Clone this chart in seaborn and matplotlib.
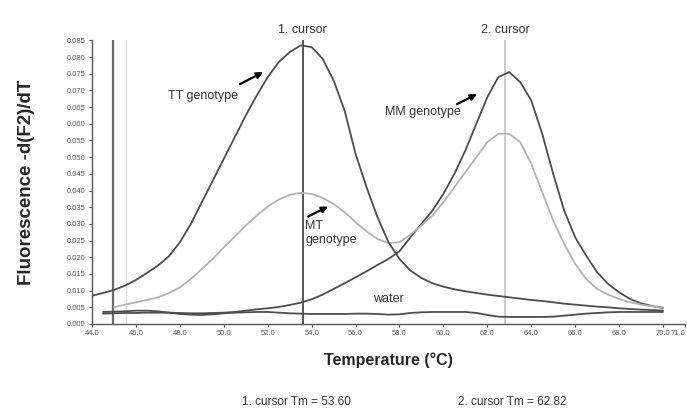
import numpy as np
import pandas as pd
import matplotlib
matplotlib.use("Agg")
import matplotlib.pyplot as plt
import seaborn as sns

sns.set_style("ticks")
plt.rcParams["font.family"] = ["Liberation Sans", "DejaVu Sans"]

# melting curve data (0.5 degC grid)
temperature = [44.0 + 0.5 * i for i in range(53)]

tt_genotype = [
    0.0085, 0.0093, 0.0102, 0.0115, 0.0132, 0.0153, 0.0175, 0.0203, 0.0245, 0.0300,
    0.0365, 0.0430, 0.0495, 0.0560, 0.0625, 0.0685, 0.0740, 0.0785, 0.0815, 0.0835,
    0.0830, 0.0795, 0.0730, 0.0640, 0.0510, 0.0410, 0.0320, 0.0245, 0.0195, 0.0160,
    0.0138, 0.0122, 0.0112, 0.0104, 0.0098, 0.0093, 0.0088, 0.0084, 0.0080, 0.0076,
    0.0072, 0.0069, 0.0065, 0.0061, 0.0058, 0.0055, 0.0052, 0.0050, 0.0047, 0.0045,
    0.0043, 0.0042, 0.0040,
]

mt_genotype = [
    np.nan, np.nan, 0.0050, 0.0058, 0.0065, 0.0072, 0.0080, 0.0092, 0.0110, 0.0135,
    0.0165, 0.0195, 0.0230, 0.0262, 0.0295, 0.0325, 0.0352, 0.0373, 0.0387, 0.0393,
    0.0390, 0.0378, 0.0360, 0.0335, 0.0305, 0.0278, 0.0255, 0.0243, 0.0245, 0.0268,
    0.0295, 0.0325, 0.0365, 0.0410, 0.0455, 0.0500, 0.0545, 0.0570, 0.0570, 0.0545,
    0.0480, 0.0395, 0.0310, 0.0240, 0.0180, 0.0135, 0.0105, 0.0088, 0.0075, 0.0065,
    0.0058, 0.0053, 0.0050,
]

mm_genotype = [
    np.nan, 0.0031, 0.0032, 0.0033, 0.0033, 0.0034, 0.0034, 0.0034, 0.0033, 0.0032,
    0.0032, 0.0033, 0.0034, 0.0036, 0.0040, 0.0044, 0.0047, 0.0051, 0.0057, 0.0064,
    0.0074, 0.0088, 0.0105, 0.0122, 0.0140, 0.0158, 0.0177, 0.0195, 0.0218, 0.0260,
    0.0300, 0.0340, 0.0390, 0.0450, 0.0520, 0.0600, 0.0680, 0.0740, 0.0755, 0.0725,
    0.0670, 0.0570, 0.0450, 0.0340, 0.0260, 0.0205, 0.0155, 0.0120, 0.0095, 0.0075,
    0.0062, 0.0054, 0.0048,
]

water = [
    np.nan, 0.0036, 0.0037, 0.0038, 0.0040, 0.0040, 0.0038, 0.0034, 0.0030, 0.0028,
    0.0027, 0.0029, 0.0032, 0.0034, 0.0035, 0.0036, 0.0036, 0.0034, 0.0032, 0.0031,
    0.0030, 0.0030, 0.0030, 0.0030, 0.0031, 0.0031, 0.0030, 0.0028, 0.0029, 0.0033,
    0.0035, 0.0036, 0.0036, 0.0036, 0.0036, 0.0033, 0.0027, 0.0022, 0.0021, 0.0021,
    0.0021, 0.0021, 0.0022, 0.0025, 0.0028, 0.0031, 0.0033, 0.0035, 0.0036, 0.0036,
    0.0036, 0.0036, 0.0036,
]

cursor_tm = [53.60, 62.82]
marker_lines = [44.94, 45.55]

y_ticks = [round(0.005 * i, 3) for i in range(18)]
x_ticks = [44.0, 46.0, 48.0, 50.0, 52.0, 54.0, 56.0, 58.0, 60.0, 62.0, 64.0, 66.0, 68.0, 70.0, 71.0]

df = pd.DataFrame({
    "T": temperature,
    "TT": tt_genotype,
    "MT": mt_genotype,
    "MM": mm_genotype,
    "water": water,
})

dark = "#4d4d4d"
light = "#b3b3b3"

fig = plt.figure(figsize=(6.87, 4.11), dpi=100)
ax = fig.add_axes([0.134, 0.2117, 0.863, 0.690])

# range markers and cursors
ax.axvline(marker_lines[0], color="#6a6a6a", lw=1.6, zorder=1)
ax.axvline(marker_lines[1], color="#e0e0e0", lw=1.0, zorder=1)
ax.axvline(cursor_tm[0], color="#555555", lw=1.4, zorder=1)
ax.axvline(cursor_tm[1], color="#c4c4c4", lw=1.2, zorder=1)

for col, c in [("water", dark), ("MM", dark), ("MT", light), ("TT", dark)]:
    sns.lineplot(data=df, x="T", y=col, ax=ax, color=c, lw=1.3, estimator=None, zorder=3)

ax.set_xlim(44.0, 71.0)
ax.set_ylim(0, 0.085)
ax.set_xticks(x_ticks)
ax.set_xticklabels([f"{t:.1f}" for t in x_ticks])
ax.set_yticks(y_ticks)
ax.set_yticklabels([f"{t:.3f}" for t in y_ticks])
ax.tick_params(axis="both", labelsize=5.5, labelcolor="#555555", color="#555555",
               length=2.5, width=0.8, direction="out", pad=2)
# last tick label sits at the right edge; keep it inside the figure
ax.get_xticklabels()[-1].set_horizontalalignment("right")
sns.despine(ax=ax)
for s in ["left", "bottom"]:
    ax.spines[s].set_color("#555555")
    ax.spines[s].set_linewidth(1.0)

ax.set_xlabel("Temperature (°C)", fontsize=11.5, fontweight="bold", labelpad=11)
ax.set_ylabel("Fluorescence -d(F2)/dT", fontsize=13.5, fontweight="bold", labelpad=23)

# cursor labels
for i, t in enumerate(cursor_tm):
    ax.text(t, 0.0880, f"{i + 1}. cursor", ha="center", va="center",
            fontsize=9, color="#333333", clip_on=False)

# genotype labels and arrows
arrow = dict(arrowstyle="-|>", color="black", lw=1.6, mutation_scale=9, shrinkA=0, shrinkB=0)
ax.text(47.46, 0.0683, "TT genotype", fontsize=9, color="#333333", va="center")
ax.annotate("", xy=(51.79, 0.0755), xytext=(50.74, 0.0719), arrowprops=arrow)
ax.text(53.7, 0.0312, "MT\ngenotype", fontsize=9, color="#333333", va="top", linespacing=1.25)
ax.annotate("", xy=(54.75, 0.0352), xytext=(53.84, 0.0322), arrowprops=arrow)
ax.text(57.34, 0.0635, "MM genotype", fontsize=9, color="#333333", va="center")
ax.annotate("", xy=(61.53, 0.0689), xytext=(60.62, 0.0659), arrowprops=arrow)
ax.text(56.8, 0.0074, "water", fontsize=9, color="#333333", va="center")

fig.text(0.432, 0.022, f"1. cursor Tm = {cursor_tm[0]:.2f}", ha="center", va="center",
         fontsize=8.5, color="#333333")
fig.text(0.745, 0.022, f"2. cursor Tm = {cursor_tm[1]:.2f}", ha="center", va="center",
         fontsize=8.5, color="#333333")

fig.savefig("out.png", dpi=100)
